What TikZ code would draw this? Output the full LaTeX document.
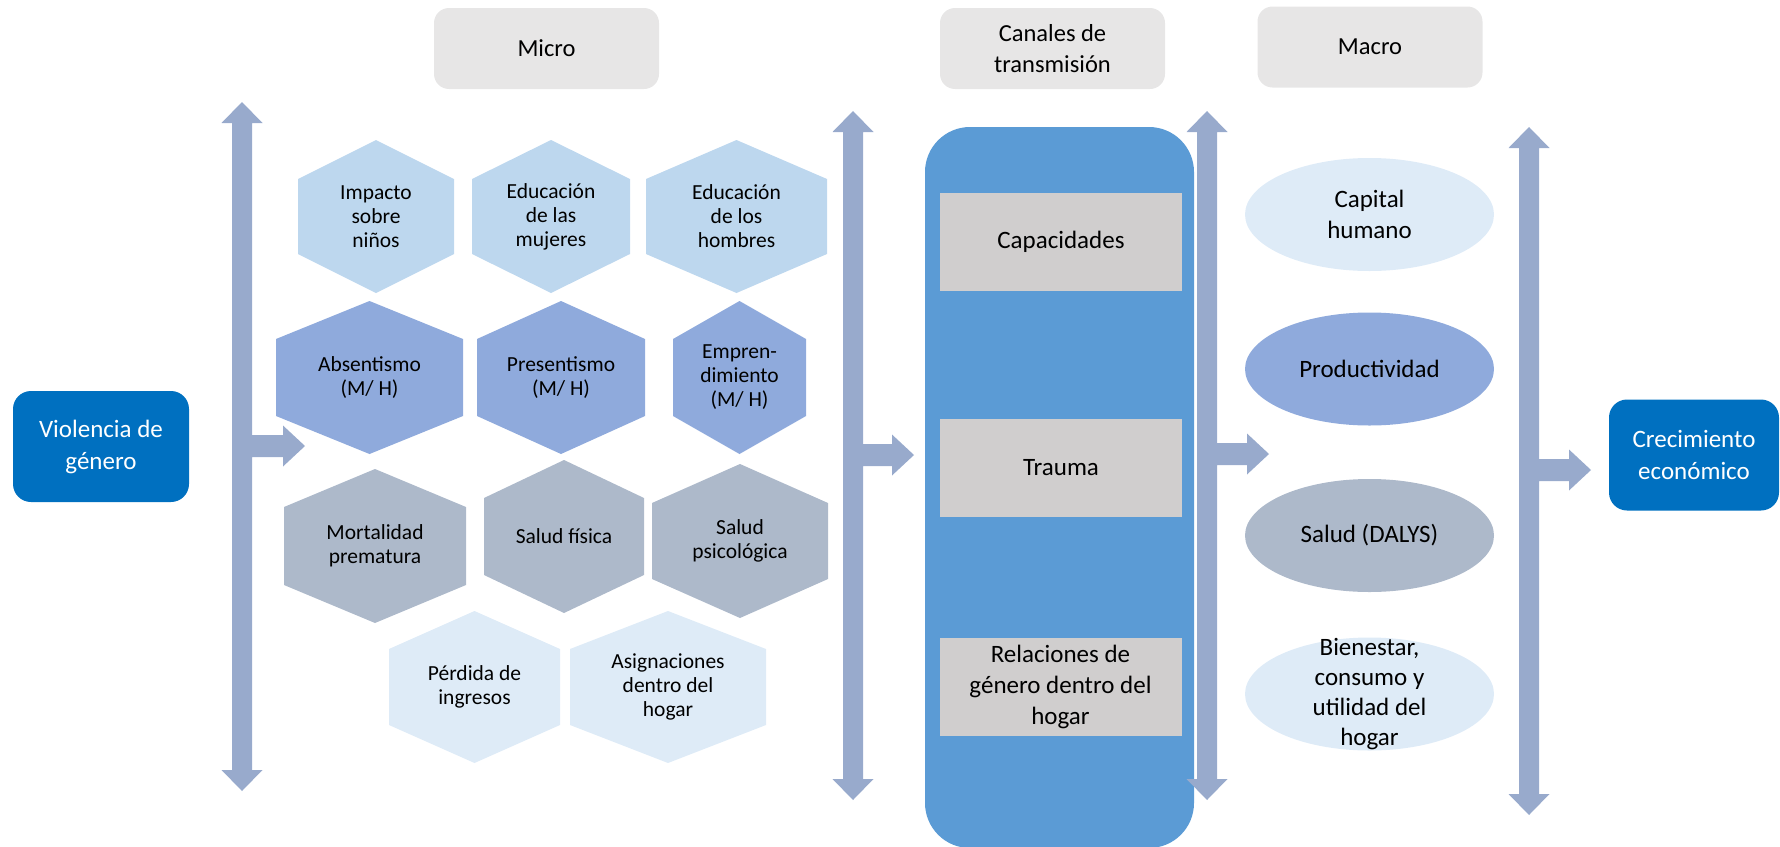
\documentclass[tikz,border=0pt]{standalone}
\usepackage{fontspec}
\setmainfont{Carlito}
\usetikzlibrary{shapes.geometric}
\definecolor{hdr}{HTML}{E7E6E6}
\definecolor{dblue}{HTML}{0070C0}
\definecolor{chan}{HTML}{5B9BD5}
\definecolor{gbox}{HTML}{D0CECE}
\definecolor{arr}{HTML}{98AACC}
\definecolor{lblue}{HTML}{BDD7EE}
\definecolor{mblue}{HTML}{8FAADC}
\definecolor{sgray}{HTML}{ADB9CA}
\definecolor{pblue}{HTML}{DEEBF7}
\tikzset{
  hdrbox/.style={fill=hdr, rounded corners=15pt, minimum width=225pt, minimum height=81pt, align=center, inner sep=0pt, font=\fontsize{24.5}{31}\selectfont},
  bluebox/.style={fill=dblue, text=white, rounded corners=18pt, minimum height=111pt, align=center, inner sep=0pt, font=\fontsize{25}{32}\selectfont},
  grayrect/.style={fill=gbox, minimum width=242pt, minimum height=98pt, align=center, inner sep=0pt, font=\fontsize{25}{31}\selectfont},
  macroell/.style={ellipse, minimum width=249pt, minimum height=113pt, inner sep=0pt, align=center, font=\fontsize{25}{31}\selectfont},
  macrotext/.style={align=center, inner sep=0pt, font=\fontsize{25}{30}\selectfont},
  hextext/.style={align=center, inner sep=0pt, font=\fontsize{21.5}{24}\selectfont},
}
% hexagon: #1 name, #2 cx, #3 cy, #4 half width, #5 half height, #6 cap, #7 colour, #8 text
\newcommand\hexa[8]{%
  \fill[#7] (#2,{#3-#5}) -- ({#2+#4},{#3-#5+#6}) -- ({#2+#4},{#3+#5-#6}) -- (#2,{#3+#5})
    -- ({#2-#4},{#3+#5-#6}) -- ({#2-#4},{#3-#5+#6}) -- cycle;
  \node[hextext] (#1) at (#2,#3) {#8};
}
% double vertical arrow with a branch: #1 cx, #2 top tip, #3 bottom tip, #4 branch tip x, #5 branch y
\newcommand\barrow[5]{%
  \fill[arr] (#1,#2) -- ({#1+20.5},{#2+21}) -- ({#1+10},{#2+21}) -- ({#1+10},{#5-11})
    -- ({#4-22},{#5-11}) -- ({#4-22},{#5-20.5}) -- (#4,#5) -- ({#4-22},{#5+20.5})
    -- ({#4-22},{#5+11}) -- ({#1+10},{#5+11}) -- ({#1+10},{#3-21}) -- ({#1+20.5},{#3-21})
    -- (#1,#3) -- ({#1-20.5},{#3-21}) -- ({#1-10},{#3-21}) -- ({#1-10},{#2+21})
    -- ({#1-20.5},{#2+21}) -- cycle;
}
\begin{document}
\begin{tikzpicture}[x=1pt,y=-1pt]
\useasboundingbox (0,0) rectangle (1780,846);

% headers
\node[hdrbox] (micro) at (546.5,48.5) {Micro};
\node[hdrbox] (canales) at (1052.5,48.5) {Canales de\\transmisión};
\node[hdrbox] (macro) at (1370,47) {Macro};

% end boxes
\node[bluebox, minimum width=176pt] (violencia) at (101,446.5) {Violencia de\\género};
\node[bluebox, minimum width=170pt] (crec) at (1694,455) {Crecimiento\\económico};

% channel column
\node[fill=chan, rounded corners=45pt, minimum width=269pt, minimum height=721pt, inner sep=0pt] (chanbg) at (1059.5,487.5) {};
\node[grayrect] (capac) at (1061,242) {Capacidades};
\node[grayrect] (trauma) at (1061,468) {Trauma};
\node[grayrect] (relac) at (1060.5,687) {Relaciones de\\género dentro del\\hogar};

% macro ellipses
\node[macroell, fill=pblue] (capital) at (1369.5,214.5) {Capital\\humano};
\node[macroell, fill=mblue] (produc) at (1369.5,369) {Productividad};
\node[macroell, fill=sgray] (salud) at (1369.5,535.5) {Salud (DALYS)};
\node[macroell, fill=pblue] (bienestar) at (1369.5,694) {};
\node[macrotext] (bientxt) at (bienestar.center) {Bienestar,\\consumo y\\utilidad del\\hogar};

% micro hexagons
\hexa{impacto}{376}{216.5}{78}{76.5}{39}{lblue}{Impacto\\sobre\\niños}
\hexa{edmuj}{551}{216.5}{79}{76.5}{39}{lblue}{Educación\\de las\\mujeres}
\hexa{edhom}{736.5}{216.5}{90.5}{76.5}{39}{lblue}{Educación\\de los\\hombres}
\hexa{absent}{369.5}{377.5}{93.5}{76.5}{38}{mblue}{Absentismo\\(M/ H)}
\hexa{present}{561}{377.5}{84}{76.5}{38}{mblue}{Presentismo\\(M/ H)}
\hexa{empren}{739.5}{377.5}{66.5}{76.5}{38}{mblue}{Empren-\\dimiento\\(M/ H)}
\hexa{mortal}{375}{546}{91}{77}{38}{sgray}{Mortalidad\\prematura}
\hexa{sfisica}{564}{536.5}{80}{76.5}{38}{sgray}{Salud física}
\hexa{spsico}{740}{541}{88}{77}{39}{sgray}{Salud\\psicológica}
\hexa{perdida}{474.5}{687}{85.5}{76}{38}{pblue}{Pérdida de\\ingresos}
\hexa{asign}{668}{687}{98}{76}{38}{pblue}{Asignaciones\\dentro del\\hogar}

% arrows
\barrow{242}{102}{791}{305}{446}
\barrow{853}{111}{800}{914}{455}
\barrow{1207}{111}{800}{1269}{454}
\barrow{1529}{127}{815}{1591}{470}
\end{tikzpicture}
\end{document}
